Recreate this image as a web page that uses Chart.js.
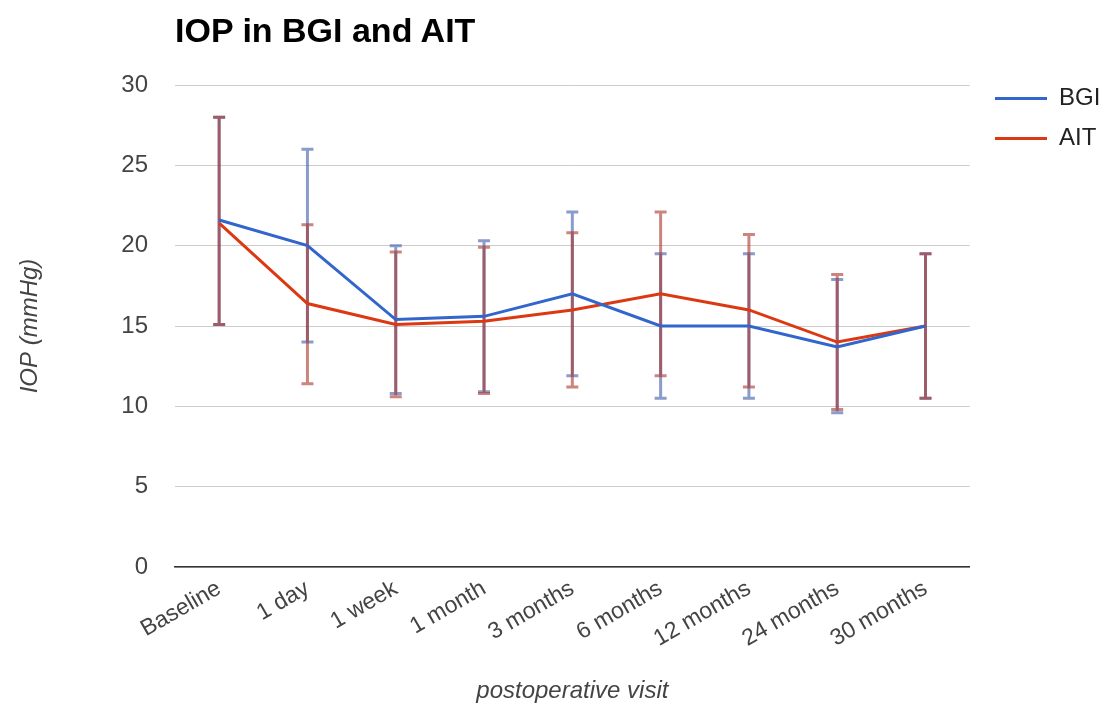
<!DOCTYPE html>
<html>
<head>
<meta charset="utf-8">
<script src="https://cdn.jsdelivr.net/npm/chart.js@4"></script>
<style>
  body{margin:0;background:#fff;}
  #wrap{position:relative;width:1106px;height:706px;}
  #title{position:absolute;left:175px;top:11px;font:bold 34px "Liberation Sans",Arial,sans-serif;color:#000;white-space:nowrap;}
</style>
</head>
<body>
<div id="wrap">
  <div id="title">IOP in BGI and AIT</div>
  <canvas id="chart" width="1106" height="706"></canvas>
</div>
<script>
// Datos
const visits = ['Baseline','1 day','1 week','1 month','3 months','6 months','12 months','24 months','30 months'];
const bgiMean = [21.6, 20.0, 15.4, 15.6, 17.0, 15.0, 15.0, 13.7, 15.0];
const bgiLow  = [15.1, 14.0, 10.8, 10.9, 11.9, 10.5, 10.5, 9.6, 10.5];
const bgiHigh = [28.0, 26.0, 20.0, 20.3, 22.1, 19.5, 19.5, 17.9, 19.5];
const aitMean = [21.4, 16.4, 15.1, 15.3, 16.0, 17.0, 16.0, 14.0, 15.0];
const aitLow  = [15.1, 11.4, 10.6, 10.8, 11.2, 11.9, 11.2, 9.8, 10.5];
const aitHigh = [28.0, 21.3, 19.6, 19.9, 20.8, 22.1, 20.7, 18.2, 19.5];
const yTicks = [0, 5, 10, 15, 20, 25, 30];

const font = '"Liberation Sans", Arial, sans-serif';

// barras de error dibujadas con las escalas del chart
const errorBars = {
  id: 'errorBars',
  beforeDatasetsDraw(chart){
    const ctx = chart.ctx;
    const y = chart.scales.y;
    chart.data.datasets.forEach((ds, di)=>{
      const meta = chart.getDatasetMeta(di);
      ctx.save();
      ctx.strokeStyle = ds.errColor;
      ctx.lineWidth = 3;
      meta.data.forEach((pt, i)=>{
        const top = y.getPixelForValue(ds.high[i]);
        const bot = y.getPixelForValue(ds.low[i]);
        ctx.beginPath();
        ctx.moveTo(pt.x, top); ctx.lineTo(pt.x, bot);
        ctx.moveTo(pt.x-6, top); ctx.lineTo(pt.x+6, top);
        ctx.moveTo(pt.x-6, bot); ctx.lineTo(pt.x+6, bot);
        ctx.stroke();
      });
      ctx.restore();
    });
  }
};

// mover la leyenda arriba a la derecha
const legendPos = {
  id: 'legendPos',
  afterLayout(chart){
    const lg = chart.legend;
    const pad = lg.options.labels.padding;
    const ih = lg._itemHeight || 28.8;
    const dx = 995 - pad - lg.left;
    const dy = 101 - pad - ih/2 - lg.top;
    lg.left += dx; lg.right += dx;
    lg.top += dy; lg.bottom += dy;
  }
};

new Chart(document.getElementById('chart'), {
  type: 'line',
  data: {
    labels: visits,
    datasets: [
      {label:'BGI', data:bgiMean, low:bgiLow, high:bgiHigh, borderColor:'#3366cc', backgroundColor:'#3366cc',
       errColor:'rgba(60,90,170,0.6)', borderWidth:3, pointRadius:0, tension:0},
      {label:'AIT', data:aitMean, low:aitLow, high:aitHigh, borderColor:'#dc3912', backgroundColor:'#dc3912',
       errColor:'rgba(170,50,40,0.6)', borderWidth:3, pointRadius:0, tension:0}
    ]
  },
  options: {
    responsive: false,
    animation: false,
    layout: {padding:{top:85, right:5, bottom:0, left:0}},
    plugins: {
      legend: {
        position: 'right',
        align: 'start',
        labels: {usePointStyle:true, pointStyle:'line', pointStyleWidth:52, padding:16, color:'#222',
                 font:{family:font, size:24}}
      },
      tooltip: {enabled:false}
    },
    scales: {
      x: {
        offset: true,
        grid: {display:false, drawTicks:false},
        border: {display:true, color:'#333', width:1.5},
        ticks: {minRotation:30, maxRotation:30, color:'#444', padding:8, font:{family:font, size:23}},
        title: {display:true, text:'postoperative visit', color:'#444', padding:{top:4, bottom:0},
                font:{family:font, size:24, style:'italic'}},
        afterFit(s){ s.height = 139; }
      },
      y: {
        min: 0, max: 30,
        afterBuildTicks(s){ s.ticks = yTicks.map(v=>({value:v})); },
        grid: {color:'#cccccc', drawTicks:false},
        border: {display:false},
        ticks: {color:'#444', padding:27, font:{family:font, size:24}},
        title: {display:true, text:'IOP (mmHg)', color:'#444', padding:{top:16, bottom:0},
                font:{family:font, size:24, style:'italic'}},
        afterFit(s){ s.width = 175; }
      }
    }
  },
  plugins: [errorBars, legendPos]
});
</script>
</body>
</html>
